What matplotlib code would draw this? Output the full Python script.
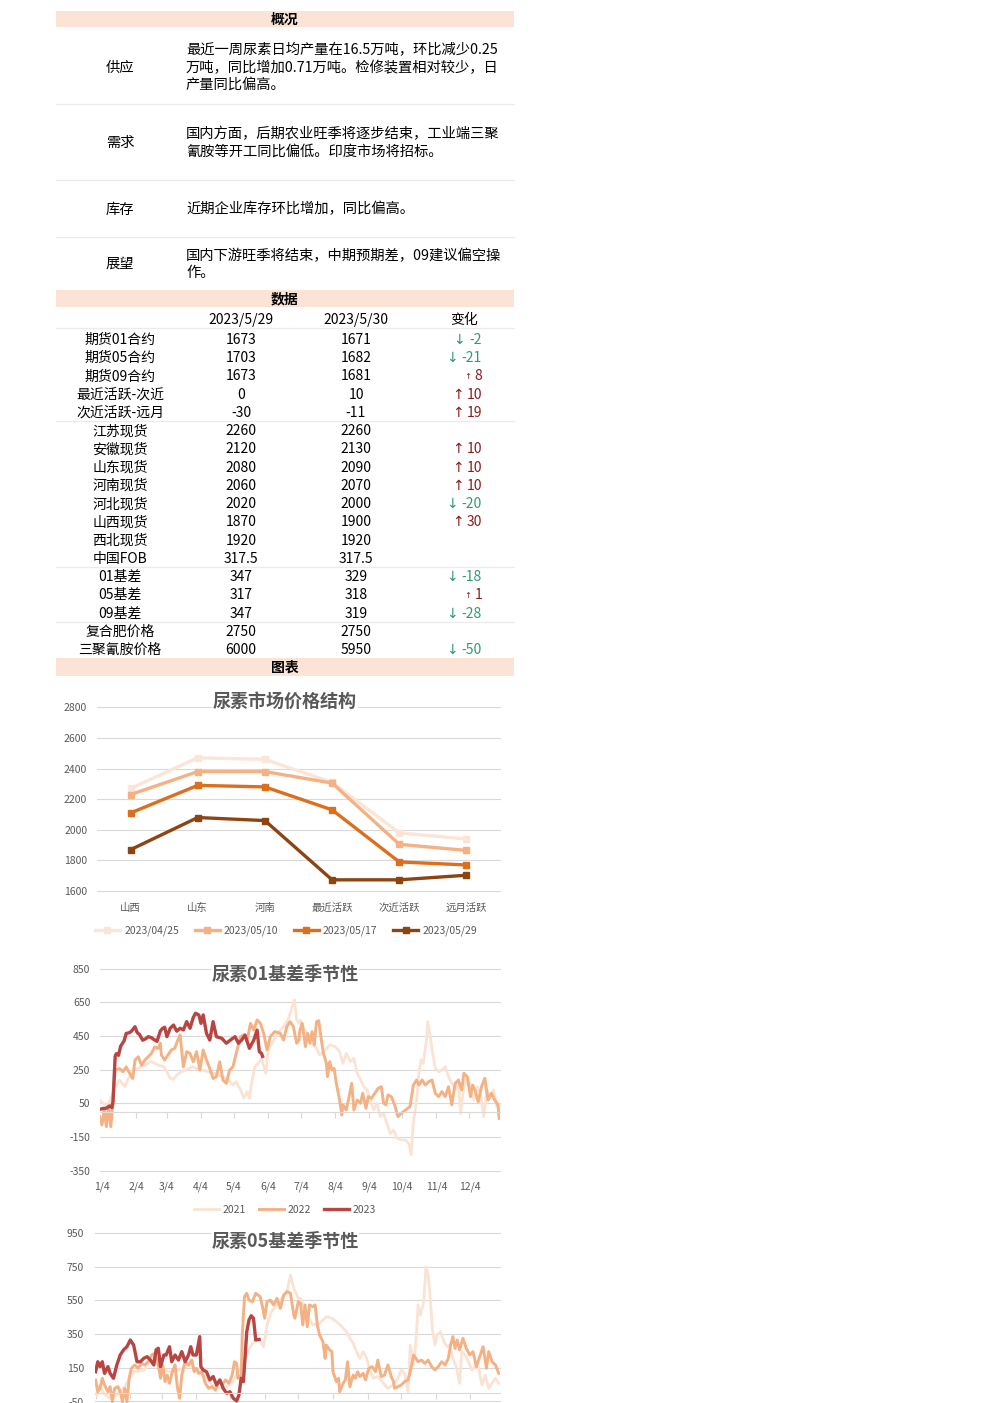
import numpy as np
import pandas as pd
import matplotlib
matplotlib.use('Agg')
import matplotlib.pyplot as plt
from matplotlib.patches import Rectangle
from matplotlib.lines import Line2D

plt.rcParams['font.family'] = ['Noto Sans CJK SC', 'DejaVu Sans']

# ---------------- 数据 ----------------
# 概况
sections = ['供应', '需求', '库存', '展望']
section_lines = [
    ['最近一周尿素日均产量在16.5万吨，环比减少0.25',
     '万吨，同比增加0.71万吨。检修装置相对较少，日',
     '产量同比偏高。'],
    ['国内方面，后期农业旺季将逐步结束，工业端三聚',
     '氰胺等开工同比偏低。印度市场将招标。'],
    ['近期企业库存环比增加，同比偏高。'],
    ['国内下游旺季将结束，中期预期差，09建议偏空操',
     '作。'],
]

# 数据表
col_dates = ['2023/5/29', '2023/5/30']
row_names = ['期货01合约', '期货05合约', '期货09合约', '最近活跃-次近', '次近活跃-远月',
             '江苏现货', '安徽现货', '山东现货', '河南现货', '河北现货', '山西现货', '西北现货',
             '中国FOB', '01基差', '05基差', '09基差', '复合肥价格', '三聚氰胺价格']
val_0529 = [1673, 1703, 1673, 0, -30, 2260, 2120, 2080, 2060, 2020, 1870, 1920,
            317.5, 347, 317, 347, 2750, 6000]
val_0530 = [1671, 1682, 1681, 10, -11, 2260, 2130, 2090, 2070, 2000, 1900, 1920,
            317.5, 329, 318, 319, 2750, 5950]

# 尿素市场价格结构
price_cats = ['山西', '山东', '河南', '最近活跃', '次近活跃', '远月活跃']
price_dates = ['2023/04/25', '2023/05/10', '2023/05/17', '2023/05/29']
price_0425 = [2270, 2470, 2460, 2310, 1980, 1940]
price_0510 = [2230, 2380, 2380, 2305, 1905, 1865]
price_0517 = [2110, 2290, 2280, 2130, 1790, 1770]
price_0529 = [1870, 2080, 2060, 1673, 1673, 1703]

# 01基差季节性 (x = 一年中的第几天)
b01_2021_day = [2, 5, 8, 11, 16, 20, 25, 28, 33, 37, 43, 49, 55, 60, 63, 66, 69, 72, 76, 81,
                86, 90, 95, 101, 107, 113, 119, 123, 126, 130, 133, 136, 138, 140, 143, 146,
                149, 153, 155, 160, 164, 169, 173, 176, 179, 181, 183,
                184, 187, 190, 195, 199, 202, 207, 211, 216, 220, 223, 226, 230, 233, 236, 239,
                242, 245, 248, 251, 254, 257, 260, 263, 266, 269, 272, 276, 280, 283, 285, 287,
                290, 292, 294, 296, 299, 300, 302, 304, 307, 310, 313, 316, 319, 322, 325, 328,
                330, 333, 336, 339, 342, 345, 348, 351, 354, 357, 360, 363]
b01_2021 = [70, 50, 40, 60, 149, 189, 149, 199, 248, 258, 278, 298, 278, 268, 238, 199, 193, 218,
            238, 248, 268, 258, 248, 238, 228, 209, 189, 159, 179, 130, 80, 120, 80, 169, 268,
            288, 317, 228, 367, 426, 466, 505, 545, 604, 664, 545, 525,
            545, 505, 466, 407, 377, 337, 367, 397, 387, 357, 288, 347, 298, 317, 229, 189, 149,
            130, 70, 11, 51, -29, -9, -68, -128, -108, -157, -167, -167, -190, -255, -68, 70, 229,
            308, 288, 426, 535, 466, 367, 258, 238, 248, 268, 209, 169, 130, 169, -9, 149, 199,
            149, 70, 149, 110, -29, 130, 90, 130, 31]
b01_2022_day = [2, 4, 6, 8, 10, 12, 14, 16, 20, 23, 26, 30, 32, 34, 37, 40, 43, 46, 49, 52, 55, 57,
                58, 61, 64, 67, 70, 73, 75, 78, 81, 84, 87, 90, 93, 96, 99, 102, 105, 108, 111, 114,
                117, 120, 123, 126, 130, 133, 136, 139, 142, 145, 148, 151, 154, 157, 161, 166,
                169, 172, 175, 178, 181, 183,
                184, 186, 189, 191, 193, 195, 197, 199, 201, 203, 205, 208, 209, 211, 213, 215,
                217, 220, 222, 223, 226, 228, 231, 233, 236, 239, 241, 244, 246, 249, 252, 255,
                258, 260, 262, 264, 267, 270, 273, 276, 280, 284, 287, 290, 292, 295, 298, 301,
                304, 307, 310, 313, 316, 319, 322, 325, 328, 331, 333, 336, 339, 341, 343, 346,
                349, 352, 355, 358, 361, 364, 365]
b01_2022 = [-29, -78, 11, -88, 35, -88, 50, 248, 257, 238, 267, 218, 198, 307, 327, 277, 307, 327,
            347, 386, 376, 407, 337, 307, 337, 367, 376, 426, 456, 267, 357, 347, 297, 357, 248,
            367, 307, 257, 198, 208, 297, 188, 169, 248, 267, 347, 446, 456, 426, 525, 485, 545,
            525, 466, 367, 446, 476, 466, 426, 505, 535, 505, 407, 426,
            486, 525, 387, 466, 407, 476, 397, 535, 541, 446, 357, 288, 209, 298, 248, 258, 169,
            70, -19, 41, 11, 70, 169, 11, 70, 51, 110, 21, 90, 80, 110, 140, 149, 51, 41, 100,
            90, 41, -29, -9, 11, 31, 159, 189, 159, 189, 159, 179, 189, 110, 90, 120, 90, 149,
            41, 169, 189, 130, 229, 209, 90, 159, 130, 60, 149, 199, 70, 110, 70, 41, -39]
b01_2023_day = [2, 5, 8, 11, 13, 14, 16, 17, 19, 21, 24, 26, 29, 31, 34, 36, 38, 41, 44, 46, 49, 51,
                54, 57, 59, 61, 63, 66, 69, 72, 75, 78, 81, 84, 87, 89, 92, 94, 96, 99, 102, 105,
                108, 111, 113, 117, 122, 125, 128, 131, 134, 138, 142, 145, 147, 149, 150]
b01_2023 = [15, 20, 22, 35, 25, 60, 330, 345, 335, 390, 420, 465, 470, 480, 505, 470, 460, 425,
            435, 446, 440, 430, 418, 479, 495, 502, 446, 496, 515, 479, 496, 486, 535, 496, 560,
            585, 575, 525, 575, 466, 426, 535, 446, 440, 436, 407, 432, 446, 407, 426, 456, 377,
            426, 485, 357, 347, 329]

# 05基差季节性
b05_2021_day = [5, 8, 11, 17, 23, 29, 38, 47, 56, 62, 70, 79, 88, 97, 103, 109, 115, 121, 127, 131,
                136, 140, 145, 149, 154, 157, 161, 166, 170, 175, 178, 181, 185,
                187, 193, 198, 204, 210, 215, 219, 224, 228, 231, 234, 237, 240, 243, 246, 249,
                252, 256, 261, 265, 270, 274, 277, 280, 283, 285, 288, 290, 292, 294, 297, 299,
                301, 303, 305, 307, 309, 312, 315, 318, 320, 323, 326, 329, 331, 334, 337, 340,
                343, 346, 349, 352, 355, 358, 361, 364]
b05_2021 = [-11, 48, -1, -31, -11, 28, 127, 137, 216, 147, 127, 137, 167, 127, 88, 38, 28, 38, 68,
            127, 167, 246, 305, 325, 275, 404, 483, 523, 562, 602, 701, 622, 562,
            562, 463, 404, 414, 453, 444, 424, 394, 364, 325, 295, 246, 206, 246, 206, 137, 88,
            98, 58, 28, 48, 88, 137, 117, 8, 285, 167, 305, 523, 463, 542, 750, 701, 542, 364,
            285, 345, 364, 305, 275, 285, 206, 157, 58, 246, 226, 186, 137, 157, 147, 48, 107,
            28, 58, 88, 58]
b05_2022_day = [4, 6, 8, 10, 12, 15, 17, 19, 21, 24, 26, 28, 30, 32, 34, 36, 39, 42, 45, 48, 51, 54,
                57, 60, 62, 64, 66, 68, 70, 73, 75, 77, 79, 81, 84, 87, 90, 92, 94, 96, 99, 102, 105,
                108, 111, 114, 117, 120, 123, 126, 128, 130, 131, 134, 135, 137, 139, 141, 144, 147,
                151, 153, 155, 157, 160, 163, 166, 169, 172, 175, 178, 181, 182, 185,
                187, 189, 191, 193, 195, 198, 200, 202, 204, 207, 209, 210, 213, 215, 216, 219, 221,
                222, 225, 227, 229, 231, 234, 236, 238, 240, 243, 245, 248, 251, 254, 256, 259, 262,
                265, 268, 270, 271, 274, 277, 280, 283, 285, 288, 290, 292, 295, 298, 301, 304, 307,
                310, 313, 316, 319, 321, 323, 325, 327, 329, 332, 335, 338, 341, 344, 347, 350, 353,
                355, 358, 361, 364]
b05_2022 = [78, 8, 28, 88, 48, 8, 38, -51, 28, 38, 8, -51, 28, -51, 88, 147, 167, 147, 176, 167,
            186, 226, 236, 167, 88, 167, 68, 107, 58, 137, 167, 38, -31, 107, 186, 167, 196, 127,
            147, 117, 127, 58, 28, 38, 18, 68, 48, 78, 58, 107, 186, 176, 88, 107, 345, 572, 592,
            552, 542, 592, 572, 513, 444, 542, 552, 523, 562, 503, 582, 602, 592, 463, 444, 542,
            533, 404, 523, 394, 523, 513, 523, 404, 345, 305, 206, 285, 256, 246, 127, 68, 88, 8,
            58, 78, 186, 38, 107, 88, 127, 98, 117, 78, 147, 157, 127, 196, 98, 107, 167, 98, 68,
            28, 38, 48, 68, 78, 127, 226, 206, 186, 196, 176, 196, 157, 137, 157, 186, 167, 206,
            285, 335, 265, 315, 256, 325, 265, 226, 246, 157, 216, 275, 147, 246, 186, 167, 117]
b05_2023_day = [4, 6, 8, 10, 12, 15, 17, 20, 23, 26, 29, 32, 35, 38, 41, 44, 47, 50, 53, 56, 58, 60,
                62, 65, 67, 70, 72, 75, 78, 81, 84, 87, 89, 91, 94, 97, 98, 100, 103, 106, 109, 112,
                115, 118, 121, 124, 127, 130, 132, 134, 136, 137, 139, 141, 143, 145, 147, 149, 150]
b05_2023 = [127, 186, 157, 186, 117, 157, 117, 88, 167, 226, 256, 275, 315, 285, 186, 186, 206,
            216, 196, 167, 256, 266, 157, 226, 226, 275, 186, 226, 196, 246, 186, 226, 275, 226,
            226, 335, 157, 137, 127, 78, 98, 48, 78, 28, -1, 8, -31, -47, -11, 88, 68, 167, 364,
            434, 459, 444, 315, 317, 318]

month_labels = ['%d/4' % m for m in range(1, 13)]
month_days = pd.to_datetime(['2021-%02d-04' % m for m in range(1, 13)]).dayofyear

# ---------------- 画布 ----------------
W, H = 992, 1403
fig = plt.figure(figsize=(W / 100, H / 100), dpi=100)
fig.patch.set_facecolor('white')

BAND = '#FBE4D5'
SEP = '#EBEBEB'
GRID = '#D9D9D9'
TXT = '#595959'


def fx(x):
    return x / W


def fy(y):
    return 1 - y / H


def band(y0, y1, title):
    fig.add_artist(Rectangle((fx(56), fy(y1)), (514 - 56) / W, (y1 - y0) / H,
                             transform=fig.transFigure, facecolor=BAND, edgecolor='none'))
    fig.text(fx(285), fy((y0 + y1) / 2 + 1), title, ha='center', va='center',
             fontsize=10, fontweight='bold')


def sep(y):
    fig.add_artist(Line2D([fx(56), fx(514)], [fy(y), fy(y)], transform=fig.transFigure,
                          color=SEP, lw=0.9))


def add_ax(x0, y0, x1, y1):
    return fig.add_axes([fx(x0), fy(y1), (x1 - x0) / W, (y1 - y0) / H])


# 概况
band(11, 27, '概况')
label_y = [67, 142, 209, 263]
first_line_y = [50, 134, 209, 256]
for name, lines, ly, ty in zip(sections, section_lines, label_y, first_line_y):
    fig.text(fx(120), fy(ly + 1), name, ha='center', va='center', fontsize=10.3)
    for k, line in enumerate(lines):
        fig.text(fx(186), fy(ty + k * 17.5), line, ha='left', va='center', fontsize=10.3)
for y in [104, 180, 237]:
    sep(y)

# 数据
band(290, 307, '数据')
fig.text(fx(241), fy(320), col_dates[0], ha='center', va='center', fontsize=10)
fig.text(fx(356), fy(320), col_dates[1], ha='center', va='center', fontsize=10)
fig.text(fx(464), fy(320), '变化', ha='center', va='center', fontsize=10)
for y in [328, 421, 567, 622]:
    sep(y)


def fmt(v):
    return ('%g' % v)


for i, (name, a, b) in enumerate(zip(row_names, val_0529, val_0530)):
    y = 340 + i * 18.24
    fig.text(fx(120), fy(y), name, ha='center', va='center', fontsize=10)
    fig.text(fx(241), fy(y), fmt(a), ha='center', va='center', fontsize=10)
    fig.text(fx(356), fy(y), fmt(b), ha='center', va='center', fontsize=10)
    d = b - a
    if d > 0:
        fig.text(fx(482), fy(y), fmt(d), ha='right', va='center', fontsize=10, color='#8B1C1C')
        fig.text(fx(482 - 7.5 * len(fmt(d)) - 3), fy(y), '↑', ha='right', va='center',
                 fontsize=10 if d >= 10 else 6, color='#8B1C1C',
                 family=['DejaVu Sans'])
    elif d < 0:
        fig.text(fx(482), fy(y), fmt(d), ha='right', va='center', fontsize=10, color='#2E9B6E')
        fig.text(fx(482 - 7.0 * len(fmt(d)) - 3), fy(y), '↓', ha='right', va='center',
                 fontsize=10, color='#2E9B6E', family=['DejaVu Sans'])

# 图表
band(658, 676, '图表')


def style_axes(ax, yticks, ypad):
    ax.set_yticks(yticks)
    ax.set_yticklabels([str(v) for v in yticks])
    ax.grid(axis='y', color=GRID, lw=0.8)
    for gl in ax.get_ygridlines():
        gl.set_clip_on(False)
    ax.set_axisbelow(True)
    for s in ax.spines.values():
        s.set_visible(False)
    ax.tick_params(axis='y', length=0, labelsize=7.5, labelcolor=TXT, pad=ypad)


def title(x, y, s):
    fig.text(fx(x), fy(y), s, ha='center', va='center', fontsize=13, fontweight='bold',
             color=TXT, bbox=dict(facecolor='white', edgecolor='none', pad=0.5))


# 图1 尿素市场价格结构
ax1 = add_ax(97, 707.3, 500, 891)
price_colors = ['#FBE5D6', '#F4B183', '#DD6E1C', '#8C4512']
for lab, vals, c in zip(price_dates, [price_0425, price_0510, price_0517, price_0529], price_colors):
    ax1.plot(range(len(price_cats)), vals, color=c, lw=2.4, marker='s', ms=5, label=lab)
ax1.set_xlim(-0.5, len(price_cats) - 0.5)
ax1.set_ylim(1600, 2800)
style_axes(ax1, list(range(1600, 2801, 200)), 7)
ax1.set_xticks(range(len(price_cats)))
ax1.set_xticklabels(price_cats)
ax1.tick_params(axis='x', length=0, labelsize=7.5, labelcolor=TXT, pad=8.5)
ax1.legend(loc='center', bbox_to_anchor=(fx(286), fy(931)), bbox_transform=fig.transFigure,
           ncol=4, frameon=False, fontsize=7.5, handlelength=2.4, handletextpad=0.4,
           columnspacing=1.5, labelcolor=TXT)
title(285, 701, '尿素市场价格结构')

season_colors = ['#FBE3D3', '#F4B183', '#B84542']


def season(ax, series, xlim, ylim, yticks, ypad, legend_y=None):
    for (d, v, lab), c, lw in zip(series, season_colors, [2.0, 2.1, 2.4]):
        ax.plot(d, v, color=c, lw=lw, label=lab)
    ax.set_xlim(*xlim)
    ax.set_ylim(*ylim)
    style_axes(ax, yticks, ypad)
    ax.spines['bottom'].set_visible(True)
    ax.spines['bottom'].set_position(('data', 0))
    ax.spines['bottom'].set_color(GRID)
    ax.set_xticks(month_days)
    ax.tick_params(axis='x', length=4, color=GRID, direction='out', labelbottom=False)
    if legend_y is None:
        # 图的下半部分在画面之外
        return
    sec = ax.secondary_xaxis('bottom')
    sec.set_xticks(month_days)
    sec.set_xticklabels(month_labels)
    sec.spines['bottom'].set_visible(False)
    sec.tick_params(length=0, labelsize=7.5, labelcolor=TXT, pad=7.5)
    ax.legend(loc='center', bbox_to_anchor=(fx(285), fy(legend_y)), bbox_transform=fig.transFigure,
              ncol=3, frameon=False, fontsize=7.5, handlelength=2.4, handletextpad=0.3,
              columnspacing=1.3, labelcolor=TXT)


# 图2 尿素01基差季节性
ax2 = add_ax(100, 968.6, 500, 1170.8)
season(ax2, [(b01_2021_day, b01_2021, '2021'), (b01_2022_day, b01_2022, '2022'),
             (b01_2023_day, b01_2023, '2023')],
       (2.2, 365.8), (-350, 850), list(range(-350, 851, 200)), 7, 1210)
title(285, 974, '尿素01基差季节性')

# 图3 尿素05基差季节性
ax3 = add_ax(95, 1233, 500, 1435.2)
season(ax3, [(b05_2021_day, b05_2021, '2021'), (b05_2022_day, b05_2022, '2022'),
             (b05_2023_day, b05_2023, '2023')],
       (3.5, 365.1), (-250, 950), list(range(-250, 951, 200)), 8)
title(285, 1241, '尿素05基差季节性')

fig.savefig('out.png', dpi=100)
